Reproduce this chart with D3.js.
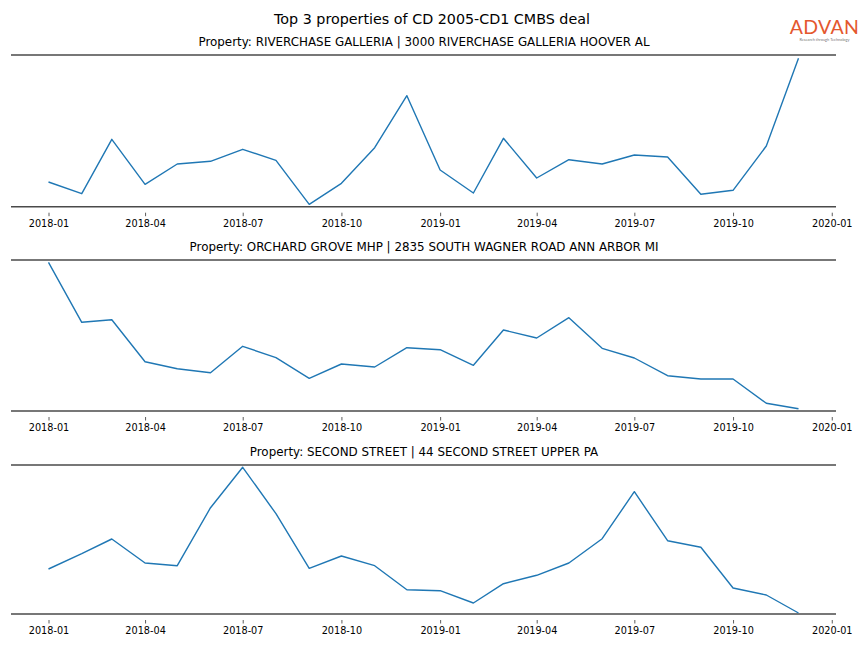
<!DOCTYPE html>
<html>
<head>
<meta charset="utf-8">
<script src="https://cdn.jsdelivr.net/npm/d3@7"></script>
<style>
  body { margin: 0; background: #fff; }
  svg { display: block; }
</style>
</head>
<body>
<svg id="chart" width="864" height="648"></svg>
<script>
// ---- data (relative activity index) ----
const months = ["2018-01","2018-02","2018-03","2018-04","2018-05","2018-06","2018-07","2018-08","2018-09","2018-10","2018-11","2018-12",
                "2019-01","2019-02","2019-03","2019-04","2019-05","2019-06","2019-07","2019-08","2019-09","2019-10","2019-11","2019-12"];
const titles = [
  "Property: RIVERCHASE GALLERIA | 3000 RIVERCHASE GALLERIA HOOVER AL",
  "Property: ORCHARD GROVE MHP | 2835 SOUTH WAGNER ROAD ANN ARBOR MI",
  "Property: SECOND STREET | 44 SECOND STREET UPPER PA"
];
const riverchase = [24.7, 13.0, 67.4, 22.4, 42.7, 45.4, 57.4, 46.4, 2.4, 23.4, 59.0, 111.0,
                    36.7, 13.7, 68.4, 28.7, 47.0, 42.7, 51.7, 49.7, 12.4, 16.4, 60.7, 148.4];
const orchard    = [148.7, 88.7, 91.3, 49.3, 42.3, 38.3, 64.7, 53.3, 32.7, 47.0, 44.0, 63.3,
                    61.3, 45.7, 81.0, 73.0, 93.3, 62.7, 53.0, 35.3, 32.0, 32.0, 7.7, 2.3];
const second     = [45.0, 60.3, 75.0, 51.0, 48.3, 106.3, 146.7, 100.3, 45.7, 58.0, 48.3, 24.3,
                    23.3, 11.0, 30.3, 38.7, 51.0, 75.3, 122.3, 73.3, 66.7, 26.0, 19.0, 1.0];
const yMax = [151.7, 151.0, 149.0];
const tickLabels = ["2018-01","2018-04","2018-07","2018-10","2019-01","2019-04","2019-07","2019-10","2020-01"];
const series = [riverchase, orchard, second];

// ---- layout ----
const svg = d3.select("#chart");
const left = 11, right = 836;
const panels = [{top: 55, bottom: 206.7}, {top: 260, bottom: 411}, {top: 465, bottom: 614}];
const parse = d3.timeParse("%Y-%m");
const dates = months.map(parse);
const first = dates[0], last = dates[dates.length - 1];
const span = last - first;
const x = d3.scaleTime()
  .domain([new Date(+first - span * 0.05), new Date(+last + span * 0.05)])
  .range([left, right]);
const tickDates = tickLabels.map(parse);
const font = "DejaVu Sans, sans-serif";

svg.append("text")
  .attr("x", 432).attr("y", 24)
  .attr("text-anchor", "middle")
  .attr("font-family", font).attr("font-size", 14.3)
  .attr("fill", "#000")
  .text("Top 3 properties of CD 2005-CD1 CMBS deal");

// logo
svg.append("text")
  .attr("x", 824.5).attr("y", 33.5)
  .attr("text-anchor", "middle")
  .attr("font-family", "Lato, 'Open Sans', sans-serif").attr("font-size", 19.5)
  .attr("letter-spacing", 0.3)
  .attr("fill", "#e4572e")
  .text("ADVAN");
svg.append("text")
  .attr("x", 824.5).attr("y", 41)
  .attr("text-anchor", "middle")
  .attr("font-family", "Lato, sans-serif").attr("font-size", 3.9)
  .attr("fill", "#777")
  .text("Research through Technology");

panels.forEach((p, i) => {
  const y = d3.scaleLinear().domain([0, yMax[i]]).range([p.bottom, p.top]);
  const g = svg.append("g");

  g.append("text")
    .attr("x", (left + right) / 2 + 0.5).attr("y", p.top - 9)
    .attr("text-anchor", "middle")
    .attr("font-family", font).attr("font-size", 11.9)
    .attr("fill", "#000")
    .text(titles[i]);

  // spines
  g.append("line").attr("x1", left).attr("x2", right)
    .attr("y1", p.top).attr("y2", p.top)
    .attr("stroke", "#4a4a4a").attr("stroke-width", 1.6);

  const axis = d3.axisBottom(x)
    .tickValues(tickDates)
    .tickFormat(d3.timeFormat("%Y-%m"))
    .tickSize(3.5).tickPadding(3.5);
  const ax = g.append("g").attr("transform", `translate(0,${p.bottom + 6})`).call(axis);
  ax.select(".domain").remove();
  ax.selectAll(".tick line").attr("stroke", "#333").attr("stroke-width", 0.8);
  ax.selectAll(".tick text").attr("font-family", font).attr("font-size", 9.7).attr("fill", "#000");
  g.append("line").attr("x1", left).attr("x2", right)
    .attr("y1", p.bottom).attr("y2", p.bottom)
    .attr("stroke", "#4a4a4a").attr("stroke-width", 1.6);

  const line = d3.line()
    .x((d, j) => x(dates[j]))
    .y(d => y(d));
  g.append("path")
    .datum(series[i])
    .attr("d", line)
    .attr("fill", "none")
    .attr("stroke", "#1f77b4")
    .attr("stroke-width", 1.4)
    .attr("stroke-linejoin", "round");
});
</script>
</body>
</html>
